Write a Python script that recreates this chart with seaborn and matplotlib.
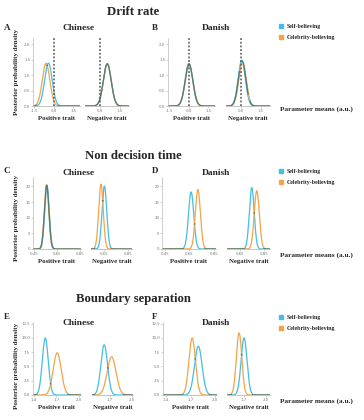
import numpy as np
import pandas as pd
import matplotlib
matplotlib.use("Agg")
import matplotlib.pyplot as plt
import seaborn as sns
from matplotlib.lines import Line2D

sns.set_style("white")
plt.rcParams['font.family'] = ['Liberation Serif', 'DejaVu Serif']

W, H, DPI = 364, 420, 100

# ---------------- data ----------------
row_titles = ["Drift rate", "Non decision time", "Boundary separation"]
panel_letters = [["A", "B"], ["C", "D"], ["E", "F"]]
cultures = ["Chinese", "Danish"]
traits = ["Positive trait", "Negative trait"]
groups = ["Self-believing", "Celebrity-believing"]

# order of the 4 panels: Chinese positive, Chinese negative, Danish positive, Danish negative
drift_self_mean = [-0.42, 0.57, 0.00, 0.08]
drift_celeb_mean = [-0.60, 0.57, 0.02, 0.14]
drift_self_peak = [1.39, 1.37, 1.38, 1.48]
drift_celeb_peak = [1.38, 1.36, 1.34, 1.44]

ndt_self_mean = [0.562, 0.653, 0.664, 0.747]
ndt_celeb_mean = [0.558, 0.624, 0.720, 0.789]
ndt_self_peak = [20.3, 20.1, 18.2, 19.6]
ndt_celeb_peak = [20.6, 20.7, 19.0, 18.6]

bound_self_mean = [1.55, 1.62, 1.795, 1.70]
bound_celeb_mean = [1.71, 1.72, 1.72, 1.633]
bound_self_peak = [10.0, 8.8, 8.55, 10.0]
bound_celeb_peak = [7.4, 6.7, 10.0, 10.9]

drift_xticks = [-1.5, 0.0, 1.5]
drift_yticks = [0.0, 0.5, 1.0, 1.5, 2.0]
ndt_xticks = [0.45, 0.65, 0.85]
ndt_yticks = [0, 5, 10, 15, 20]
bound_xticks = [1.4, 1.7, 2.0]
bound_yticks = [0.0, 2.5, 5.0, 7.5, 10.0, 12.5]

BLUE = "#45BDE8"
ORANGE = "#F4A445"
OVER = "#4E7D78"

rows = [
    dict(self_m=drift_self_mean, celeb_m=drift_celeb_mean, self_p=drift_self_peak, celeb_p=drift_celeb_peak,
         xt=drift_xticks, yt=drift_yticks, xfmt="%.1f", yfmt="%.1f", ylim=(0, 2.2), dashed=True,
         xlims=[(-1.6, 2.0), (-1.1, 2.2), (-1.6, 2.0), (-1.1, 2.2)],
         xpos=[(33, 80), (85, 129), (168, 215), (226, 270)], top=38, bot=106,
         title_y=12, letter_y=28, cult_y=28, xlab_y=119, leg_y=27, pm_y=109, ylab_y=72),
    dict(self_m=ndt_self_mean, celeb_m=ndt_celeb_mean, self_p=ndt_self_peak, celeb_p=ndt_celeb_peak,
         xt=ndt_xticks, yt=ndt_yticks, xfmt="%.2f", yfmt="%d", ylim=(0, 23), dashed=False,
         xlims=[(0.44, 0.86), (0.54, 0.886), (0.423, 0.87), (0.539, 0.90)],
         xpos=[(33, 81), (91, 132), (162, 216), (227, 270)], top=177, bot=249,
         title_y=156, letter_y=171, cult_y=173, xlab_y=266, leg_y=172, pm_y=255, ylab_y=218),
    dict(self_m=bound_self_mean, celeb_m=bound_celeb_mean, self_p=bound_self_peak, celeb_p=bound_celeb_peak,
         xt=bound_xticks, yt=bound_yticks, xfmt="%.1f", yfmt="%.1f", ylim=(0, 12.8), dashed=False,
         xlims=[(1.385, 2.03), (1.455, 2.01), (1.363, 2.024), (1.47, 2.05)],
         xpos=[(33, 81), (92, 133), (163, 217), (227, 270)], top=322, bot=395,
         title_y=299, letter_y=317, cult_y=323, xlab_y=412, leg_y=318, pm_y=401, ylab_y=366),
]


def curve(xs, mean, peak):
    sd = 1.0 / (peak * np.sqrt(2 * np.pi))
    return peak * np.exp(-0.5 * ((xs - mean) / sd) ** 2)


def overlap(xs, ya, yb, sx, sy, thr=0.9):
    pa = np.column_stack([xs * sx, ya * sy])
    pb = np.column_stack([xs * sx, yb * sy])
    d = np.sqrt(((pa[:, None, :] - pb[None, :, :]) ** 2).sum(-1)).min(1)
    return d < thr


fig = plt.figure(figsize=(W / DPI, H / DPI), dpi=DPI)
fig.patch.set_facecolor("white")


def fx(px):
    return px / W


def fy(py):
    return 1 - py / H


tick_font = dict(family="DejaVu Sans", size=2.8, color="#777777")

for r, cfg in enumerate(rows):
    fig.text(fx(133), fy(cfg["title_y"]), row_titles[r], ha="center", va="center",
             fontsize=9.2, fontweight="bold")
    for c in range(2):
        lx = 7 if c == 0 else 155
        fig.text(fx(lx), fy(cfg["letter_y"]), panel_letters[r][c], ha="center", va="center",
                 fontsize=6.5, fontweight="bold")
        cx = 79 if c == 0 else 216
        fig.text(fx(cx), fy(cfg["cult_y"]), cultures[c], ha="center", va="center",
                 fontsize=6.8, fontweight="bold")
    fig.text(fx(17), fy(cfg["ylab_y"]), "Posterior probability density", rotation=90,
             ha="center", va="center", fontsize=5.0, fontweight="bold")
    fig.text(fx(280), fy(cfg["pm_y"]), "Parameter means (a.u.)", ha="left", va="center",
             fontsize=5.2, fontweight="bold")
    # legend
    handles = [Line2D([], [], marker="s", ls="", color=BLUE, markersize=2.2),
               Line2D([], [], marker="s", ls="", color=ORANGE, markersize=2.2)]
    fig.legend(handles, groups, loc="center left", bbox_to_anchor=(fx(279), fy(cfg["leg_y"] + 5)),
               frameon=False, prop=dict(family="Liberation Serif", weight="bold", size=4.2),
               handlelength=0.8, handletextpad=0.5, labelspacing=0.95, borderpad=0, borderaxespad=0)

    for p in range(4):
        x0, x1 = cfg["xpos"][p]
        ax = fig.add_axes([fx(x0), fy(cfg["bot"]), (x1 - x0) / W, (cfg["bot"] - cfg["top"]) / H])
        xlim = cfg["xlims"][p]
        ylim = cfg["ylim"]
        xs = np.linspace(xlim[0], xlim[1], 900)
        ys_self = curve(xs, cfg["self_m"][p], cfg["self_p"][p])
        ys_celeb = curve(xs, cfg["celeb_m"][p], cfg["celeb_p"][p])
        df = pd.DataFrame({
            "x": np.concatenate([xs, xs]),
            "density": np.concatenate([ys_self, ys_celeb]),
            "group": [groups[0]] * len(xs) + [groups[1]] * len(xs),
        })
        sns.lineplot(data=df, x="x", y="density", hue="group", hue_order=groups,
                     palette=[BLUE, ORANGE], estimator=None, sort=False, legend=False,
                     lw=0.9, ax=ax)
        sx = (x1 - x0) / (xlim[1] - xlim[0])
        sy = (cfg["bot"] - cfg["top"]) / (ylim[1] - ylim[0])
        m = overlap(xs, ys_self, ys_celeb, sx, sy)
        ax.plot(xs, np.where(m, (ys_self + ys_celeb) / 2, np.nan), color=OVER, lw=0.9)
        if cfg["dashed"]:
            ax.axvline(0, color="#555555", ls=(0, (1.2, 1.2)), lw=1.1, zorder=5)
        ax.set_xlim(*xlim)
        ax.set_ylim(*ylim)
        xt = [t for t in cfg["xt"] if xlim[0] - 1e-9 <= t <= xlim[1] + 1e-9]
        ax.set_xticks(xt)
        ax.set_xticklabels([cfg["xfmt"] % t for t in xt], fontdict=tick_font)
        ax.set_xlabel(traits[p % 2], fontsize=4.9, fontweight="bold", labelpad=2.5)
        ax.set_ylabel("")
        for s in ["top", "right"]:
            ax.spines[s].set_visible(False)
        ax.spines["bottom"].set_color("#BBBBBB")
        ax.spines["bottom"].set_linewidth(0.6)
        if p % 2 == 0:
            ax.spines["left"].set_color("#BBBBBB")
            ax.spines["left"].set_linewidth(0.5)
            ax.set_yticks(cfg["yt"])
            ax.set_yticklabels([cfg["yfmt"] % t for t in cfg["yt"]], fontdict=tick_font)
        else:
            ax.spines["left"].set_visible(False)
            ax.set_yticks([])
        ax.tick_params(axis="both", length=1.2, width=0.4, color="#AAAAAA", pad=0.8,
                       bottom=True, left=(p % 2 == 0))
        ax.patch.set_alpha(0)

fig.savefig("out.png", dpi=DPI, facecolor="white")
